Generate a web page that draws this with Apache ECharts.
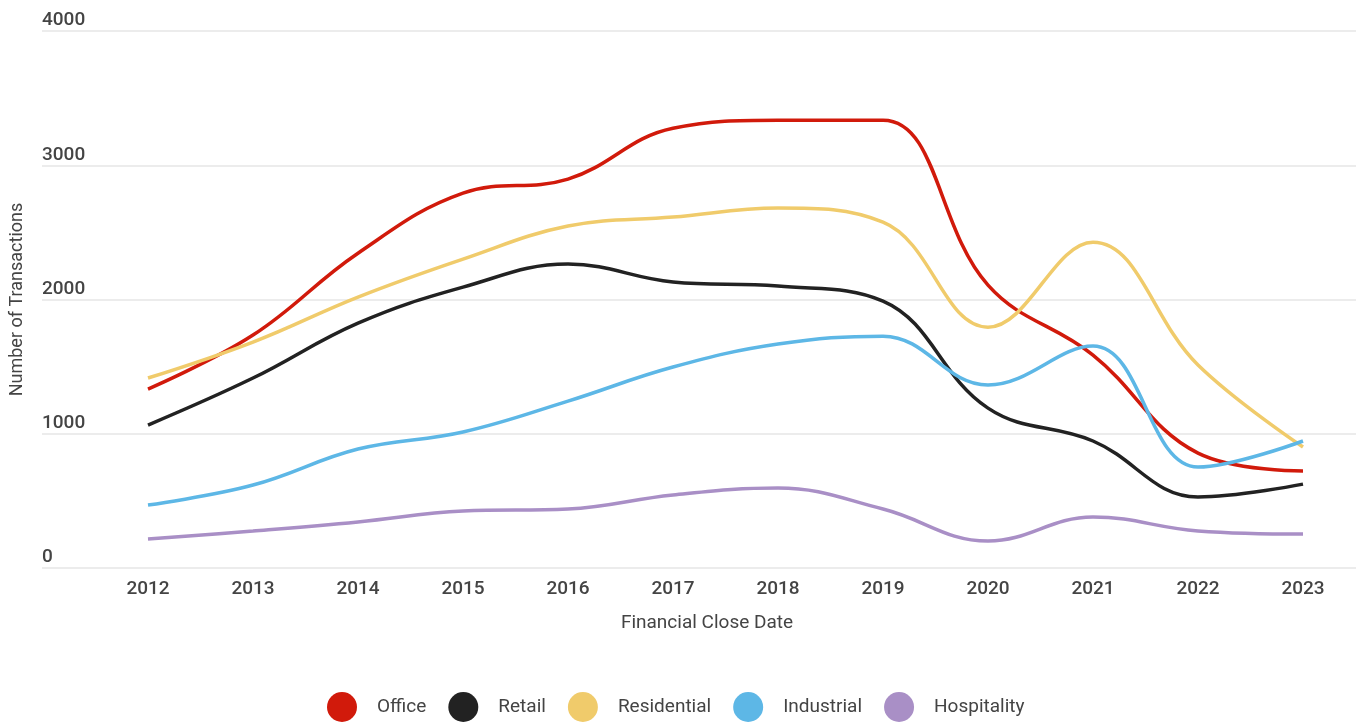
<!DOCTYPE html>
<html>
<head>
<meta charset="utf-8">
<script src="https://cdn.jsdelivr.net/npm/echarts@6/dist/echarts.min.js"></script>
<style>
  html, body { margin: 0; padding: 0; background: #fff; }
  #chart { width: 1363px; height: 724px; }
</style>
</head>
<body>
<div id="chart"></div>
<script>
// data
var years = ['2012', '2013', '2014', '2015', '2016', '2017', '2018', '2019', '2020', '2021', '2022', '2023']
var office = [1333, 1735, 2345, 2792, 2897, 3276, 3336, 3336, 2107, 1586, 856, 722]
var retail = [1065, 1415, 1824, 2092, 2264, 2130, 2100, 1988, 1191, 946, 529, 625]
var residential = [1415, 1683, 2018, 2301, 2547, 2614, 2681, 2576, 1794, 2427, 1512, 901]
var industrial = [469, 618, 886, 1013, 1243, 1497, 1668, 1727, 1363, 1653, 752, 946]
var hospitality = [216, 276, 343, 424, 439, 544, 596, 439, 201, 380, 276, 253]
var seriesNames = ['Office', 'Retail', 'Residential', 'Industrial', 'Hospitality']
var colors = ['#d11a0b', '#222222', '#f0cb6b', '#5db7e6', '#a98fc6']

var myChart = echarts.init(document.getElementById('chart'))
var font = 'Roboto, "Noto Sans", sans-serif'

var values = [office, retail, residential, industrial, hospitality]
var lineY = []
for (var i = 0; i < seriesNames.length; i++) {
  lineY.push({
    name: seriesNames[i],
    type: 'line',
    xAxisIndex: 1,
    yAxisIndex: 1,
    smooth: 0.4,
    symbol: 'none',
    color: colors[i],
    lineStyle: { width: 3.5, color: colors[i] },
    data: values[i],
  })
}

var option = {
  backgroundColor: '#fff',
  animation: false,
  textStyle: { fontFamily: font },
  grid: [
    // grid for the split lines and y labels
    { left: 40, right: 7, top: 31, bottom: 156 },
    // grid for the data
    { left: 148, right: 60, top: 31, bottom: 156 },
  ],
  legend: {
    bottom: 2,
    padding: 0,
    left: 327,
    icon: 'circle',
    itemWidth: 30,
    itemHeight: 30,
    itemGap: 22,
    data: seriesNames,
    textStyle: { fontSize: 19, color: '#444', fontFamily: font, padding: [0, 0, 0, 15] },
  },
  xAxis: [
    {
      gridIndex: 0,
      type: 'category',
      data: years,
      axisLine: { show: false },
      axisTick: { show: false },
      axisLabel: { show: false },
      name: 'Financial Close Date',
      nameLocation: 'middle',
      nameGap: 46,
      nameTextStyle: { fontSize: 19, color: '#444', padding: [0, 0, 0, 16] },
    },
    {
      gridIndex: 1,
      type: 'category',
      boundaryGap: false,
      data: years,
      axisLine: { show: false },
      axisTick: { show: false },
      axisLabel: { fontSize: 19, color: '#444', fontWeight: 500, margin: 12 },
    },
  ],
  yAxis: [
    {
      gridIndex: 0,
      type: 'value',
      min: 0,
      max: 4000,
      interval: 1000,
      name: 'Number of Transactions',
      nameLocation: 'middle',
      nameGap: 16,
      nameTextStyle: { fontSize: 18, color: '#444' },
      axisLine: { show: false },
      axisTick: { show: false },
      axisLabel: {
        inside: true,
        margin: 0,
        align: 'left',
        verticalAlign: 'bottom',
        padding: [0, 0, 1, 0],
        fontSize: 19,
        fontWeight: 500,
        color: '#444',
        formatter: function (v) {
          return String(v)
        },
      },
      splitLine: { lineStyle: { color: '#e6e6e6', width: 1.5 } },
    },
    {
      gridIndex: 1,
      type: 'value',
      min: 0,
      max: 4000,
      interval: 1000,
      show: false,
      splitLine: { show: false },
    },
  ],
  series: lineY,
}
myChart.setOption(option)
</script>
</body>
</html>
